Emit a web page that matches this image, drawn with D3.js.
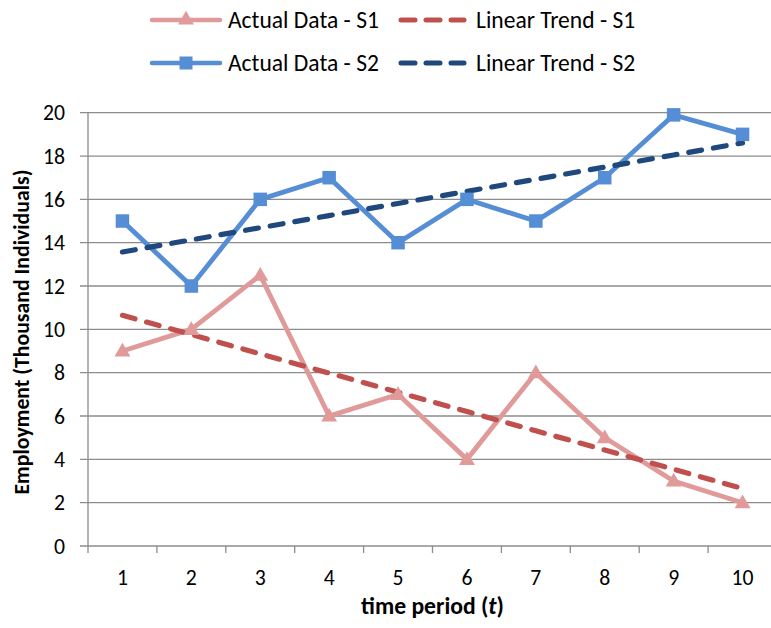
<!DOCTYPE html>
<html>
<head>
<meta charset="utf-8">
<script src="https://cdn.jsdelivr.net/npm/d3@7"></script>
<style>
  html, body { margin: 0; padding: 0; background: #fff; }
  svg { display: block; font-family: Carlito, Lato, "Open Sans", sans-serif; }
</style>
</head>
<body>
<svg id="chart" width="771" height="628"></svg>
<script>
// Time periods and observed employment (thousand individuals)
const periods = [1, 2, 3, 4, 5, 6, 7, 8, 9, 10];
const actualS1 = [9, 10, 12.5, 6, 7, 4, 8, 5, 3, 2];
const actualS2 = [15, 12, 16, 17, 14, 16, 15, 17, 19.9, 19];
const yTicks = [0, 2, 4, 6, 8, 10, 12, 14, 16, 18, 20];
const seriesNames = ["Actual Data - S1", "Linear Trend - S1", "Actual Data - S2", "Linear Trend - S2"];

// Least-squares trend line through a series
function linearTrend(xs, ys) {
  const n = xs.length;
  const mx = d3.mean(xs), my = d3.mean(ys);
  let sxy = 0, sxx = 0;
  for (let i = 0; i < n; i++) {
    sxy += (xs[i] - mx) * (ys[i] - my);
    sxx += (xs[i] - mx) * (xs[i] - mx);
  }
  const b = sxy / sxx, a = my - b * mx;
  return xs.map(v => a + b * v);
}
const trendS1 = linearTrend(periods, actualS1);
const trendS2 = linearTrend(periods, actualS2);

// Scale a text's font size so its rendered width equals the given width
function fitWidth(sel, width) {
  const base = parseFloat(sel.attr("font-size"));
  const w = sel.node().getComputedTextLength();
  if (w > 0) sel.attr("font-size", base * width / w);
  return parseFloat(sel.attr("font-size"));
}

const svg = d3.select("#chart");
const plotLeft = 88, plotRight = 777, plotTop = 112.7, plotBottom = 546;

const x = d3.scaleBand().domain(periods).range([plotLeft, plotRight]);
const y = d3.scaleLinear().domain([0, 20]).range([plotBottom, plotTop]);
const cx = d => x(d) + x.bandwidth() / 2;

const gridColor = "#8c8c8c";

// Horizontal gridlines with small outward ticks on the left
svg.append("g").selectAll("line").data(yTicks).join("line")
  .attr("x1", plotLeft - 8).attr("x2", plotRight)
  .attr("y1", d => y(d)).attr("y2", d => y(d))
  .attr("stroke", gridColor).attr("stroke-width", 1.3);

// Vertical axis line
svg.append("line")
  .attr("x1", plotLeft).attr("x2", plotLeft).attr("y1", plotTop).attr("y2", plotBottom)
  .attr("stroke", gridColor).attr("stroke-width", 1.3);

// Category boundary ticks below the baseline
const bounds = periods.map(p => x(p)).concat([plotRight]);
svg.append("g").selectAll("line").data(bounds).join("line")
  .attr("x1", d => d).attr("x2", d => d)
  .attr("y1", plotBottom).attr("y2", plotBottom + 7)
  .attr("stroke", gridColor).attr("stroke-width", 1.3);

// Tick label size, taken from the width of the "10" label
const probe = svg.append("text").attr("font-size", 18).text("10");
const tickSize = fitWidth(probe, 22);
probe.remove();

// Y tick labels
svg.append("g").selectAll("text").data(yTicks).join("text")
  .attr("x", 65).attr("y", d => y(d))
  .attr("dy", "0.35em")
  .attr("text-anchor", "end")
  .attr("font-size", tickSize).attr("fill", "#000")
  .text(d => d);

// X tick labels
svg.append("g").selectAll("text").data(periods).join("text")
  .attr("x", d => cx(d)).attr("y", 585)
  .attr("text-anchor", "middle")
  .attr("font-size", tickSize).attr("fill", "#000")
  .text(d => d);

// Axis titles
const xTitle = svg.append("text")
  .attr("x", (plotLeft + plotRight) / 2).attr("y", 614)
  .attr("text-anchor", "middle")
  .attr("font-size", 17).attr("font-weight", "bold");
xTitle.append("tspan").text("time period (");
xTitle.append("tspan").attr("font-style", "italic").text("t");
xTitle.append("tspan").text(")");
fitWidth(xTitle, 143);

const yTitle = svg.append("text")
  .attr("transform", `translate(29,${332}) rotate(-90)`)
  .attr("text-anchor", "middle")
  .attr("font-size", 16).attr("font-weight", "bold")
  .text("Employment (Thousand Individuals)");
fitWidth(yTitle, 325);

const line = d3.line().x((d, i) => cx(periods[i])).y(d => y(d));

const colS1 = "#e09a99", colS2 = "#558ed5", colT1 = "#c0504d", colT2 = "#1f497d";

// Actual data lines
svg.append("path").datum(actualS1)
  .attr("d", line).attr("fill", "none")
  .attr("stroke", colS1).attr("stroke-width", 4.8);
svg.append("path").datum(actualS2)
  .attr("d", line).attr("fill", "none")
  .attr("stroke", colS2).attr("stroke-width", 4.8);

// Trend lines
svg.append("path").datum(trendS1)
  .attr("d", line).attr("fill", "none")
  .attr("stroke", colT1).attr("stroke-width", 5.2)
  .attr("stroke-linecap", "round").attr("stroke-dasharray", "13 12");
svg.append("path").datum(trendS2)
  .attr("d", line).attr("fill", "none")
  .attr("stroke", colT2).attr("stroke-width", 5.2)
  .attr("stroke-linecap", "round").attr("stroke-dasharray", "13 12");

// Markers
const tri = d3.symbol().type(d3.symbolTriangle).size(110);
svg.append("g").selectAll("path").data(actualS1).join("path")
  .attr("d", tri)
  .attr("transform", (d, i) => `translate(${cx(periods[i])},${y(d) + 1})`)
  .attr("fill", colS1);
svg.append("g").selectAll("rect").data(actualS2).join("rect")
  .attr("x", (d, i) => cx(periods[i]) - 6.75).attr("y", d => y(d) - 6.75)
  .attr("width", 13.5).attr("height", 13.5)
  .attr("fill", colS2);

// Legend
const legend = svg.append("g");
const legendItems = [
  { name: seriesNames[0], color: colS1, dashed: false, marker: "tri", lx: 150, ly: 20 },
  { name: seriesNames[1], color: colT1, dashed: true, lx: 398, ly: 20 },
  { name: seriesNames[2], color: colS2, dashed: false, marker: "sq", lx: 150, ly: 63 },
  { name: seriesNames[3], color: colT2, dashed: true, lx: 398, ly: 63 }
];
const legendProbe = svg.append("text").attr("font-size", 19).text(seriesNames[0]);
const legendSize = fitWidth(legendProbe, 151);
legendProbe.remove();
legendItems.forEach(it => {
  const g = legend.append("g").attr("transform", `translate(${it.lx},${it.ly})`);
  if (it.dashed) {
    g.append("line").attr("x1", 3).attr("x2", 66).attr("y1", 0).attr("y2", 0)
      .attr("stroke", it.color).attr("stroke-width", 5)
      .attr("stroke-linecap", "round").attr("stroke-dasharray", "14 11");
  } else {
    g.append("line").attr("x1", 2).attr("x2", 70).attr("y1", 0).attr("y2", 0)
      .attr("stroke", it.color).attr("stroke-width", 4.5).attr("stroke-linecap", "round");
    if (it.marker === "tri") {
      g.append("path").attr("d", tri).attr("transform", "translate(36,0)").attr("fill", it.color);
    } else {
      g.append("rect").attr("x", 29.5).attr("y", -6.5).attr("width", 13).attr("height", 13).attr("fill", it.color);
    }
  }
  g.append("text").attr("x", 78).attr("y", 0).attr("dy", "0.35em")
    .attr("font-size", legendSize).attr("fill", "#000").text(it.name);
});
</script>
</body>
</html>
